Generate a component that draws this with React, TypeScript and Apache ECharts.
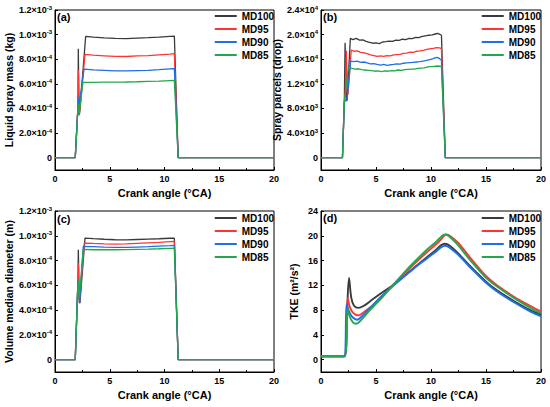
import React, { useEffect, useRef } from "react";
import * as echarts from "echarts";

const FONT = '"Liberation Sans", Arial, Helvetica, sans-serif';

const seriesNames = ["MD100", "MD95", "MD90", "MD85"];
const seriesColors = ["#3a3a3a", "#ff3434", "#1f6fe6", "#22a84a"];
const xTicks = [0, 5, 10, 15, 20];
const panelLabels = ["(a)", "(b)", "(c)", "(d)"];
const xTitle = "Crank angle (°CA)";
const yTitles = [
  "Liquid spray mass (kg)",
  "Spray parcels (drop)",
  "Volume median diameter (m)",
  "TKE (m²/s²)",
];
const yTicksMass = [0, 2e-4, 4e-4, 6e-4, 8e-4, 1.0e-3, 1.2e-3];
const yTicksParcels = [0, 4000, 8000, 12000, 16000, 20000, 24000];
const yTicksDiam = [0, 2e-4, 4e-4, 6e-4, 8e-4, 1.0e-3, 1.2e-3];
const yTicksTke = [0, 4, 8, 12, 16, 20, 24];

// (a) Liquid spray mass (kg)
const massMD100 = [[0,0],[1.85,0],[2.1,4.2e-4],[2.13,8.86e-4],[2.19,3.46e-4],[2.25,3.6e-4],[2.8,9.85e-4],[3.5,9.8e-4],[4.5,9.74e-4],[5.5,9.69e-4],[6.5,9.67e-4],[7.5,9.72e-4],[8.5,9.75e-4],[9.5,9.8e-4],[10.5,9.86e-4],[10.9,9.88e-4],[11.25,0],[20,0]];
const massMD95 = [[0,0],[1.85,0],[2.1,4.2e-4],[2.13,7.1e-4],[2.2,4.2e-4],[2.26,3.8e-4],[2.74,8.4e-4],[3.5,8.33e-4],[4.5,8.28e-4],[5.5,8.23e-4],[6.5,8.22e-4],[7.5,8.27e-4],[8.5,8.3e-4],[9.5,8.36e-4],[10.5,8.42e-4],[10.9,8.45e-4],[11.25,0],[20,0]];
const massMD90 = [[0,0],[1.85,0],[2.1,4.2e-4],[2.13,4.94e-4],[2.2,4.3e-4],[2.65,7.2e-4],[3.5,7.14e-4],[4.5,7.1e-4],[5.5,7.05e-4],[6.5,7.05e-4],[7.5,7.08e-4],[8.5,7.1e-4],[9.5,7.15e-4],[10.5,7.22e-4],[10.9,7.24e-4],[11.25,0],[20,0]];
const massMD85 = [[0,0],[1.85,0],[2.12,4.4e-4],[2.2,3.5e-4],[2.55,6.12e-4],[3.5,6.12e-4],[4.5,6.14e-4],[5.5,6.14e-4],[6.5,6.15e-4],[7.5,6.17e-4],[8.5,6.2e-4],[9.5,6.22e-4],[10.5,6.26e-4],[10.9,6.27e-4],[11.25,0],[20,0]];

// (b) Spray parcels (drop)
const parcelsMD100 = [[0,0],[1.95,0],[2.12,9000],[2.19,18670],[2.3,9400],[2.37,9400],[2.67,19390],[2.9,19200],[3.2,19380],[3.5,19100],[3.8,19150],[4.1,18900],[4.4,18750],[4.7,18600],[5.0,18670],[5.3,18550],[5.6,18800],[5.9,18850],[6.2,18950],[6.5,18900],[6.8,19100],[7.1,19050],[7.4,19250],[7.7,19200],[8.0,19380],[8.3,19350],[8.6,19550],[8.9,19500],[9.2,19700],[9.5,19800],[9.8,19900],[10.1,19950],[10.4,20100],[10.6,20200],[10.8,20050],[10.95,19900],[11.3,0],[20,0]];
const parcelsMD95 = [[0,0],[1.95,0],[2.12,9000],[2.2,10500],[2.3,17400],[2.4,10200],[2.45,10300],[2.75,17500],[3.0,17300],[3.3,17350],[3.6,17100],[3.9,17050],[4.2,16900],[4.5,16700],[4.8,16600],[5.1,16450],[5.4,16550],[5.7,16450],[6.0,16600],[6.3,16550],[6.6,16700],[6.9,16750],[7.2,16800],[7.5,16950],[7.8,17000],[8.1,17150],[8.4,17100],[8.7,17300],[9.0,17350],[9.3,17450],[9.6,17600],[9.9,17700],[10.2,17750],[10.5,17900],[10.8,17850],[10.95,17700],[11.3,0],[20,0]];
const parcelsMD90 = [[0,0],[1.95,0],[2.12,9000],[2.27,9400],[2.35,9200],[2.7,15700],[3.0,15600],[3.3,15700],[3.6,15500],[3.9,15550],[4.2,15400],[4.5,15250],[4.8,15300],[5.1,15150],[5.4,15050],[5.7,15150],[6.0,15000],[6.3,15100],[6.6,15150],[6.9,15250],[7.2,15200],[7.5,15350],[7.8,15400],[8.1,15450],[8.4,15500],[8.7,15550],[9.0,15600],[9.3,15700],[9.6,15800],[9.9,15950],[10.2,16100],[10.5,16300],[10.7,16200],[10.95,15850],[11.3,0],[20,0]];
const parcelsMD85 = [[0,0],[1.95,0],[2.12,9100],[2.49,14620],[2.8,14500],[3.1,14400],[3.4,14450],[3.7,14300],[4.0,14250],[4.3,14200],[4.6,14150],[4.9,14050],[5.2,14100],[5.5,14000],[5.8,14100],[6.1,14050],[6.4,14150],[6.7,14100],[7.0,14250],[7.3,14200],[7.6,14300],[7.9,14350],[8.2,14400],[8.5,14400],[8.8,14500],[9.1,14550],[9.4,14600],[9.7,14750],[10.0,14800],[10.3,14850],[10.6,14900],[10.95,14850],[11.3,0],[20,0]];

// (c) Volume median diameter (m)
const diamMD100 = [[0,0],[1.85,0],[2.1,6.4e-4],[2.13,8.87e-4],[2.22,4.57e-4],[2.28,4.6e-4],[2.74,9.81e-4],[3.5,9.77e-4],[4.5,9.72e-4],[5.5,9.68e-4],[6.5,9.67e-4],[7.5,9.7e-4],[8.5,9.73e-4],[9.5,9.76e-4],[10.5,9.8e-4],[10.9,9.8e-4],[11.25,0],[20,0]];
const diamMD95 = [[0,0],[1.85,0],[2.1,6.4e-4],[2.13,7.8e-4],[2.2,4.84e-4],[2.27,4.9e-4],[2.68,9.41e-4],[3.5,9.38e-4],[4.5,9.35e-4],[5.5,9.33e-4],[6.5,9.34e-4],[7.5,9.38e-4],[8.5,9.42e-4],[9.5,9.46e-4],[10.5,9.52e-4],[10.9,9.54e-4],[11.25,0],[20,0]];
const diamMD90 = [[0,0],[1.85,0],[2.1,6.4e-4],[2.25,4.6e-4],[2.3,4.6e-4],[2.58,9.15e-4],[3.5,9.12e-4],[4.5,9.08e-4],[5.5,9.06e-4],[6.5,9.06e-4],[7.5,9.09e-4],[8.5,9.12e-4],[9.5,9.16e-4],[10.5,9.2e-4],[10.9,9.22e-4],[11.25,0],[20,0]];
const diamMD85 = [[0,0],[1.85,0],[2.1,6.45e-4],[2.18,5.1e-4],[2.22,5.0e-4],[2.58,8.9e-4],[3.5,8.87e-4],[4.5,8.87e-4],[5.5,8.87e-4],[6.5,8.88e-4],[7.5,8.9e-4],[8.5,8.92e-4],[9.5,8.95e-4],[10.5,8.99e-4],[10.9,9.0e-4],[11.25,0],[20,0]];

// (d) TKE (m2/s2)
const tkeMD100 = [[0,0.53],[2.12,0.53],[2.35,7],[2.55,13.2],[2.75,10],[3.0,8.7],[3.4,8.35],[4.0,8.8],[4.45,9.4],[5.36,10.6],[6.42,11.9],[7.48,13.4],[8.5,14.9],[9.6,16.5],[10.5,17.8],[10.9,18.45],[11.25,18.7],[11.5,18.6],[11.9,18.1],[12.5,17.1],[13.5,15.2],[15,12.6],[16,11.2],[17.5,9.5],[19,8.0],[20,7.26]];
const tkeMD95 = [[0,0.53],[2.15,0.53],[2.43,9.95],[2.6,8.6],[2.9,7.6],[3.39,7.15],[3.7,7.4],[4.45,8.4],[5.36,9.7],[6.42,11.8],[7.48,13.7],[8.5,15.5],[9.6,17.3],[10.5,18.7],[11.0,19.6],[11.35,20.2],[11.6,20.1],[12.0,19.6],[12.5,18.8],[13.5,16.6],[15,13.5],[16,12.0],[17.5,10.2],[19,8.7],[20,7.8]];
const tkeMD90 = [[0,0.53],[2.1,0.53],[2.33,9.0],[2.5,8.0],[2.8,7.0],[3.3,6.45],[3.6,6.8],[4.45,8.3],[5.36,10.0],[6.42,11.7],[7.48,13.3],[8.5,14.8],[9.6,16.3],[10.5,17.5],[10.9,18.1],[11.25,18.4],[11.5,18.3],[11.9,17.8],[12.5,16.9],[13.5,15.0],[15,12.4],[16,11.0],[17.5,9.3],[19,7.8],[20,7.0]];
const tkeMD85 = [[0,0.53],[2.15,0.53],[2.43,8.3],[2.6,7.0],[2.9,6.0],[3.2,5.8],[3.6,6.3],[4.45,8.0],[5.36,9.7],[6.42,11.8],[7.48,13.9],[8.5,15.8],[9.6,17.7],[10.5,19.1],[10.95,19.9],[11.27,20.2],[11.5,20.1],[11.9,19.5],[12.5,18.4],[13.5,16.2],[15,13.2],[16,11.8],[17.5,10.0],[19,8.4],[20,7.5]];

const panelData = [
  [massMD100, massMD95, massMD90, massMD85],
  [parcelsMD100, parcelsMD95, parcelsMD90, parcelsMD85],
  [diamMD100, diamMD95, diamMD90, diamMD85],
  [tkeMD100, tkeMD95, tkeMD90, tkeMD85],
];

function sciLabel(v: number): string {
  if (Math.abs(v) < 1e-12) return "{m|0}";
  const e = Math.floor(Math.log10(Math.abs(v)) + 1e-9);
  const m = v / Math.pow(10, e);
  return `{m|${m.toFixed(1)}×10}{s|${e < 0 ? "-" : ""}${Math.abs(e)}}`;
}

const grids = [
  { left: 55, top: 10, width: 219, height: 160 },
  { left: 321, top: 10, width: 220, height: 160 },
  { left: 55, top: 211, width: 219, height: 161 },
  { left: 321, top: 211, width: 220, height: 161 },
];

const yConf = [
  { min: -1e-4, max: 1.2e-3, ticks: yTicksMass, sci: true, gap: 40 },
  { min: -2000, max: 24000, ticks: yTicksParcels, sci: true, gap: 36 },
  { min: -1e-4, max: 1.2e-3, ticks: yTicksDiam, sci: true, gap: 40 },
  { min: -2, max: 24, ticks: yTicksTke, sci: false, gap: 22 },
];

export default function App() {
  const ref = useRef<HTMLDivElement>(null);
  useEffect(() => {
    document.body.style.margin = "0";
    if (!ref.current) return;
    const chart = echarts.init(ref.current, undefined, { renderer: "svg" });
    const labelRich = {
      m: { fontSize: 9, fontWeight: "bold", color: "#000", fontFamily: FONT, lineHeight: 11 },
      s: { fontSize: 6, fontWeight: "bold", color: "#000", fontFamily: FONT, verticalAlign: "top", lineHeight: 11 },
    };
    const xAxis = grids.map((_, i) => ({
      type: "value",
      gridIndex: i,
      min: 0,
      max: 20,
      interval: 5,
      name: xTitle,
      nameLocation: "middle",
      nameGap: 17,
      nameTextStyle: { fontSize: 11, fontWeight: "bold", color: "#000", fontFamily: FONT },
      axisLine: { show: true, onZero: false, lineStyle: { color: "#000", width: 1 } },
      axisTick: { show: true, inside: true, length: 3, lineStyle: { color: "#000" }, customValues: xTicks },
      minorTick: { show: true, splitNumber: 2, length: 2, lineStyle: { color: "#000" } },
      axisLabel: { fontSize: 9, fontWeight: "bold", color: "#000", fontFamily: FONT, margin: 4, customValues: xTicks },
      splitLine: { show: false },
    }));
    const yAxis = yConf.map((c, i) => ({
      type: "value",
      gridIndex: i,
      min: c.min,
      max: c.max,
      name: yTitles[i],
      nameLocation: "middle",
      nameGap: c.gap,
      nameTextStyle: { fontSize: 10.5, fontWeight: "bold", color: "#000", fontFamily: FONT },
      axisLine: { show: true, onZero: false, lineStyle: { color: "#000", width: 1 } },
      axisTick: { show: true, inside: true, length: 3, lineStyle: { color: "#000" }, customValues: c.ticks },
      axisLabel: {
        customValues: c.ticks,
        margin: 3,
        formatter: (v: number) => (c.sci ? sciLabel(v) : `{m|${v}}`),
        rich: labelRich,
      },
      splitLine: { show: false },
    }));
    const series: any[] = [];
    panelData.forEach((arrs, p) => {
      arrs.forEach((d, k) => {
        series.push({
          type: "line",
          name: seriesNames[k],
          xAxisIndex: p,
          yAxisIndex: p,
          data: d,
          showSymbol: false,
          symbol: "none",
          smooth: p === 3 ? 0.35 : false,
          color: seriesColors[k],
          lineStyle: { color: seriesColors[k], width: p === 3 ? 1.9 : 1.3 },
          itemStyle: { color: seriesColors[k] },
          z: 2 + k,
        });
      });
    });
    const legendPos = [
      { right: 276, top: 10 },
      { right: 9, top: 10 },
      { right: 276, top: 212 },
      { right: 9, top: 212 },
    ];
    const legend = legendPos.map((pos) => ({
      ...pos,
      orient: "vertical",
      padding: 0,
      icon: "rect",
      itemWidth: 22,
      itemHeight: 2,
      itemGap: 1,
      selectedMode: false,
      data: seriesNames,
      textStyle: { fontSize: 10, fontWeight: "bold", color: "#000", fontFamily: FONT, lineHeight: 12 },
    }));
    const labelPos = [
      [57, 11],
      [323, 11],
      [57, 213],
      [323, 212],
    ];
    const graphic = panelLabels.map((t, i) => ({
      type: "text",
      x: labelPos[i][0],
      y: labelPos[i][1],
      style: { text: t, fontSize: 11, fontWeight: "bold", fill: "#000", fontFamily: FONT },
      z: 10,
    }));
    chart.setOption({
      animation: false,
      backgroundColor: "#fff",
      textStyle: { fontFamily: FONT },
      grid: grids.map((g) => ({ ...g, show: true, borderColor: "#000", borderWidth: 1, backgroundColor: "transparent" })),
      xAxis,
      yAxis,
      legend,
      graphic,
      series,
    });
    return () => chart.dispose();
  }, []);
  return <div ref={ref} style={{ width: 550, height: 407 }} />;
}
